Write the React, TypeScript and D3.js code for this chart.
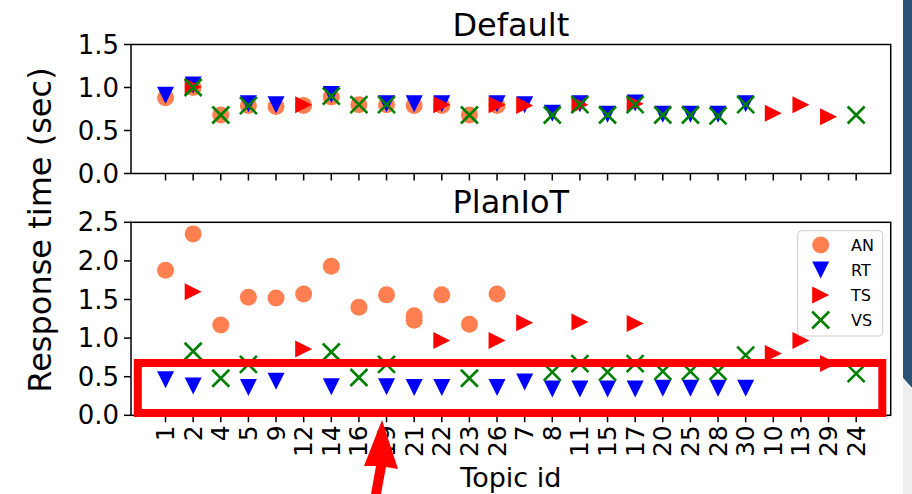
import React from "react";
import * as d3 from "d3";

// topic ids in the order they show on the x axis
const topics = ["1", "2", "4", "5", "9", "12", "14", "16", "19", "21", "22", "23", "26",
    "7", "8", "11", "15", "17", "20", "25", "28", "30", "10", "13", "29", "24"];

// Default planner
const defaultAN: [string, number][] = [["1", 0.88], ["2", 1.0], ["4", 0.68], ["5", 0.79], ["9", 0.78], ["12", 0.79],
    ["14", 0.89], ["16", 0.8], ["19", 0.8], ["21", 0.79], ["22", 0.79], ["23", 0.68], ["26", 0.79]];
const defaultRT: [string, number][] = [["1", 0.91], ["2", 1.03], ["5", 0.81], ["9", 0.8], ["14", 0.92], ["19", 0.81],
    ["21", 0.81], ["22", 0.81], ["26", 0.81], ["7", 0.8], ["8", 0.7], ["11", 0.81], ["15", 0.69], ["17", 0.82],
    ["20", 0.69], ["25", 0.69], ["28", 0.69], ["30", 0.81]];
const defaultTS: [string, number][] = [["2", 1.01], ["12", 0.8], ["22", 0.8], ["26", 0.8], ["7", 0.79], ["11", 0.8],
    ["17", 0.81], ["10", 0.7], ["13", 0.8], ["29", 0.66]];
const defaultVS: [string, number][] = [["2", 1.0], ["4", 0.68], ["5", 0.79], ["14", 0.9], ["16", 0.8], ["19", 0.8],
    ["23", 0.68], ["8", 0.68], ["11", 0.8], ["15", 0.68], ["17", 0.8], ["20", 0.68], ["25", 0.68], ["28", 0.67],
    ["30", 0.8], ["24", 0.68]];

// PlanIoT
const planAN: [string, number][] = [["1", 1.88], ["2", 2.35], ["4", 1.17], ["5", 1.53], ["9", 1.52], ["12", 1.57],
    ["14", 1.93], ["16", 1.4], ["19", 1.56], ["21", 1.29], ["21", 1.23], ["22", 1.56], ["23", 1.18], ["26", 1.57]];
const planRT: [string, number][] = [["1", 0.46], ["2", 0.38], ["5", 0.36], ["9", 0.44], ["14", 0.37], ["19", 0.37],
    ["21", 0.36], ["22", 0.36], ["26", 0.36], ["7", 0.43], ["8", 0.34], ["11", 0.34], ["15", 0.34], ["17", 0.34],
    ["20", 0.35], ["25", 0.35], ["28", 0.35], ["30", 0.35]];
const planTS: [string, number][] = [["2", 1.6], ["12", 0.86], ["22", 0.97], ["26", 0.97], ["7", 1.2], ["11", 1.21],
    ["17", 1.19], ["10", 0.8], ["13", 0.97], ["29", 0.67]];
const planVS: [string, number][] = [["2", 0.83], ["4", 0.48], ["5", 0.66], ["14", 0.82], ["16", 0.49], ["19", 0.66],
    ["23", 0.48], ["8", 0.56], ["11", 0.67], ["15", 0.56], ["17", 0.67], ["20", 0.57], ["25", 0.57], ["28", 0.57],
    ["30", 0.78], ["24", 0.54]];

const topTicks = [0, 0.5, 1.0, 1.5];
const bottomTicks = [0, 0.5, 1.0, 1.5, 2.0, 2.5];

const legend = [
    {name: "AN", kind: "circle", color: "coral"},
    {name: "RT", kind: "down", color: "#0000ff"},
    {name: "TS", kind: "right", color: "#ff0000"},
    {name: "VS", kind: "x", color: "#008000"},
];

const font = "DejaVu Sans, sans-serif";
const left = 131, right = 890.7;
const ms = 17;

const Marker = ({kind, color, x, y}: any) => {
    const h = ms / 2;
    if (kind === "circle") return <circle cx={x} cy={y} r={h} fill={color}/>;
    if (kind === "down") return <path d={`M${x - h},${y - h}L${x + h},${y - h}L${x},${y + h}Z`} fill={color}/>;
    if (kind === "right") return <path d={`M${x - h},${y - h}L${x + h},${y}L${x - h},${y + h}Z`} fill={color}/>;
    return <path d={`M${x - h},${y - h}L${x + h},${y + h}M${x - h},${y + h}L${x + h},${y - h}`}
                 stroke={color} strokeWidth={2.6} fill="none"/>;
};

const Panel = ({series, yDomain, ticks, top, bottom, title, showLabels}: any) => {
    const x = d3.scalePoint().domain(topics).range([left, right]).padding(1.25);
    const y = d3.scaleLinear().domain(yDomain).range([bottom, top]);
    const fmt = d3.format(".1f");
    return (
        <g>
            <text x={(left + right) / 2} y={top - 9} textAnchor="middle" fontSize={32} fontFamily={font}>{title}</text>
            {series.map((s: any, i: number) => (
                <g key={i}>
                    {s.data.map((d: [string, number], j: number) => (
                        <Marker key={j} kind={s.kind} color={s.color} x={x(d[0])} y={y(d[1])}/>
                    ))}
                </g>
            ))}
            <rect x={left} y={top} width={right - left} height={bottom - top} fill="none" stroke="#000" strokeWidth={1.5}/>
            {ticks.map((t: number) => (
                <g key={t}>
                    <line x1={left - 7} x2={left} y1={y(t)} y2={y(t)} stroke="#000" strokeWidth={1.5}/>
                    <text x={left - 12} y={y(t)} textAnchor="end" dominantBaseline="central" fontSize={26}
                          fontFamily={font}>{fmt(t)}</text>
                </g>
            ))}
            {topics.map(t => (
                <g key={t}>
                    <line x1={x(t)} x2={x(t)} y1={bottom} y2={bottom + 7} stroke="#000" strokeWidth={1.5}/>
                    {showLabels && (
                        <text transform={`translate(${x(t)},${bottom + 10}) rotate(-90)`} textAnchor="end"
                              dominantBaseline="central" fontSize={25} fontFamily={font}>{t}</text>
                    )}
                </g>
            ))}
        </g>
    );
};

export default function App() {
    const topSeries = [
        {data: defaultAN, kind: "circle", color: "coral"},
        {data: defaultRT, kind: "down", color: "#0000ff"},
        {data: defaultTS, kind: "right", color: "#ff0000"},
        {data: defaultVS, kind: "x", color: "#008000"},
    ];
    const bottomSeries = [
        {data: planAN, kind: "circle", color: "coral"},
        {data: planRT, kind: "down", color: "#0000ff"},
        {data: planTS, kind: "right", color: "#ff0000"},
        {data: planVS, kind: "x", color: "#008000"},
    ];
    return (
        <svg width={912} height={494} style={{position: "absolute", left: 0, top: 0, background: "#fff"}}>
            <Panel series={topSeries} yDomain={[0, 1.5]} ticks={topTicks} top={44.5} bottom={173.5}
                   title="Default" showLabels={false}/>
            <Panel series={bottomSeries} yDomain={[0, 2.5]} ticks={bottomTicks} top={222.3} bottom={415.3}
                   title="PlanIoT" showLabels={true}/>

            {/* legend */}
            <rect x={797.7} y={230.7} width={85} height={105.3} rx={4} fill="#fff" fillOpacity={0.8}
                  stroke="#cccccc" strokeWidth={1}/>
            {legend.map((l, i) => (
                <g key={l.name}>
                    <Marker kind={l.kind} color={l.color} x={820.7} y={245 + i * 25}/>
                    <text x={851} y={245 + i * 25} dominantBaseline="central" fontSize={16}
                          fontFamily={font}>{l.name}</text>
                </g>
            ))}

            <text x={(left + right) / 2} y={487} textAnchor="middle" fontSize={27} fontFamily={font}>Topic id</text>
            <text transform="translate(51,230) rotate(-90)" textAnchor="middle" fontSize={32}
                  fontFamily={font}>Response time (sec)</text>

            {/* annotation overlay on the screenshot */}
            <rect x={137.8} y={363} width={744.5} height={50} fill="none" stroke="#ff0000" strokeWidth={8}/>
            <path d="M382,420 L398,469 L386,467 L381,494 L371,494 L376,466 L364,466 Z" fill="#ff0000"/>
            <path d="M903,0 L912,0 L912,388 L903,378 Z" fill="#2a5475"/>
            <path d="M903,378 L912,388 L912,494 L903,494 Z" fill="#eeeeee"/>
        </svg>
    );
}
